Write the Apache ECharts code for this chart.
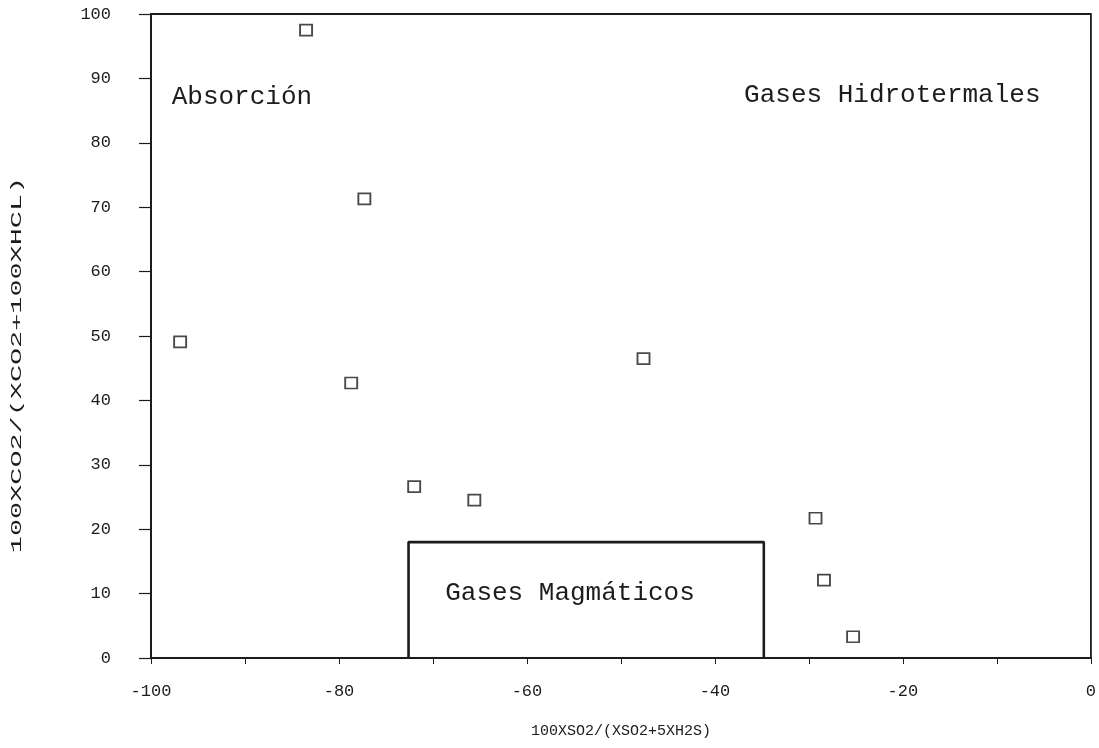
<!DOCTYPE html>
<html>
<head>
<meta charset="utf-8">
<script src="https://cdn.jsdelivr.net/npm/echarts@6/dist/echarts.min.js"></script>
<style>
  html, body { margin: 0; padding: 0; background: #ffffff; }
  #chart { width: 1099px; height: 748px; }
</style>
</head>
<body>
<div id="chart"></div>
<script>
// Gas samples: sulphur ratio (x) against carbon ratio (y)
const sampleX = [-83.5, -96.9, -77.3, -78.7, -72.0, -65.6, -47.6, -29.3, -28.4, -25.3];
const sampleY = [97.5, 49.1, 71.3, 42.7, 26.6, 24.5, 46.5, 21.7, 12.1, 3.3];

// Outline of the magmatic-gas field (corner coordinates)
const magmaticBoxX = [-72.6, -72.6, -34.8, -34.8];
const magmaticBoxY = [0, 18, 18, 0];

// Field names
const regionNames = ['Absorción', 'Gases Hidrotermales', 'Gases Magmáticos'];

// Axis ranges and titles
const xRange = [-100, 0];
const yRange = [0, 100];
const xTitle = '100XSO2/(XSO2+5XH2S)';
const yTitle = '100XCO2/(XCO2+100XHCL)';

// Where each field name starts, in data units
const regionAnchors = [[-97.8, 87.1], [-36.9, 87.4], [-68.7, 10.1]];

const ink = '#1c1c1c';
const mono = '"Liberation Mono", "DejaVu Sans Mono", monospace';

const chart = echarts.init(document.getElementById('chart'));

const option = {
  backgroundColor: '#ffffff',
  animation: false,
  grid: {
    left: 151, right: 6, top: 14, bottom: 90,
    show: true, borderColor: ink, borderWidth: 1.8, backgroundColor: 'transparent'
  },
  xAxis: {
    type: 'value', min: xRange[0], max: xRange[1], interval: 10,
    name: xTitle, nameLocation: 'middle', nameGap: 66,
    nameTextStyle: { fontFamily: mono, fontSize: 15, color: ink },
    axisLine: { onZero: false, lineStyle: { color: ink, width: 2 } },
    axisTick: { length: 6, lineStyle: { color: ink, width: 1 } },
    axisLabel: {
      margin: 25, fontFamily: mono, fontSize: 17, color: ink,
      formatter: v => (v % 20 === 0 ? String(v) : '')
    },
    splitLine: { show: false }
  },
  yAxis: {
    type: 'value', min: yRange[0], max: yRange[1], interval: 10,
    axisLine: { onZero: false, lineStyle: { color: ink, width: 2 } },
    axisTick: { length: 12, lineStyle: { color: ink, width: 1.2 } },
    axisLabel: { margin: 40, fontFamily: mono, fontSize: 17, color: ink },
    splitLine: { show: false }
  },
  series: [
    {
      type: 'line',
      data: magmaticBoxX.map((x, i) => [x, magmaticBoxY[i]]),
      symbol: 'none',
      lineStyle: { color: ink, width: 2.6 },
      z: 3
    },
    {
      type: 'scatter',
      data: sampleX.map((x, i) => [x, sampleY[i]]),
      symbol: 'rect',
      symbolSize: [12, 11],
      itemStyle: { color: 'rgba(255,255,255,0)', borderColor: ink, borderWidth: 1.8 },
      z: 4
    }
  ]
};

chart.setOption(option);

// Field names and the rotated y title are placed once the scales exist
const texts = regionNames.map((name, i) => {
  const p = chart.convertToPixel({ gridIndex: 0 }, regionAnchors[i]);
  return {
    type: 'text', x: p[0], y: p[1], silent: true,
    style: {
      text: name, font: '26px ' + mono, fill: ink,
      textAlign: 'left', textVerticalAlign: 'middle'
    }
  };
});
texts.push({
  type: 'text', x: 17, y: 365, rotation: Math.PI / 2, scaleX: 1.9, silent: true,
  style: {
    text: yTitle, font: '15px ' + mono, fill: ink,
    textAlign: 'center', textVerticalAlign: 'middle'
  }
});
chart.setOption({ graphic: texts });
</script>
</body>
</html>
